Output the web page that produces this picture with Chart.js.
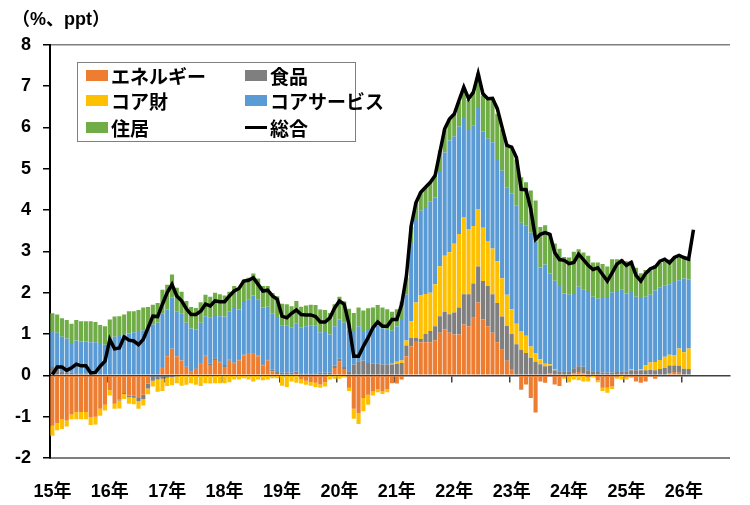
<!DOCTYPE html>
<html lang="ja">
<head>
<meta charset="utf-8">
<title>総合の寄与度分解</title>
<script src="https://cdn.jsdelivr.net/npm/chart.js@4.4.1/dist/chart.umd.min.js"></script>
<style>
  html, body { margin: 0; padding: 0; background: #fff; }
  #wrap { position: relative; width: 750px; height: 505px; }
  #legend {
    position: absolute; left: 77px; top: 62px; width: 279px; height: 80px;
    box-sizing: border-box; border: 1px solid #7f7f7f; background: #fff;
    display: grid; grid-template-columns: 159px 1fr; grid-template-rows: 24px 27px 27px;
    padding-left: 8px;
    font: bold 19px "Noto Sans CJK JP", sans-serif; color: #000;
  }
  .item { display: flex; align-items: center; white-space: nowrap; }
  .sw { width: 22px; height: 11px; margin-right: 3px; flex: none; }
  .ln { width: 22px; height: 3px; margin-right: 3px; flex: none; background: #000; }
</style>
</head>
<body>
<div id="wrap">
  <canvas id="chart"></canvas>
  <div id="legend"></div>
</div>
<script>
// tick labels (one per January)
const yearLabels = ['15年', '16年', '17年', '18年', '19年', '20年', '21年', '22年', '23年', '24年', '25年', '26年'];

// contributions, %pt, monthly from Jan 2015
const energy = [
  -1.22, -1.16, -1.06, -1.09, -0.95, -0.89, -0.89, -0.89, -1.02, -1.00, -0.81, -0.71,
  -0.36, -0.67, -0.59, -0.43, -0.49, -0.49, -0.55, -0.47, -0.20, 0.00, 0.00, 0.20,
  0.46, 0.64, 0.46, 0.36, 0.20, 0.08, 0.15, 0.28, 0.45, 0.25, 0.37, 0.31,
  0.20, 0.35, 0.28, 0.36, 0.48, 0.52, 0.52, 0.46, 0.24, 0.36, 0.10, 0.03,
  0.00, 0.00, 0.00, 0.03, -0.10, -0.13, -0.16, -0.18, -0.22, -0.17, 0.00, 0.18,
  0.34, 0.15, -0.30, -0.81, -0.91, -0.55, -0.47, -0.39, -0.33, -0.39, -0.33, -0.19,
  -0.20, -0.10, 0.46, 0.70, 0.83, 0.80, 0.80, 0.80, 0.85, 1.03, 1.11, 1.03,
  0.99, 0.99, 1.23, 1.19, 1.39, 1.76, 1.35, 1.19, 1.03, 0.80, 0.62, 0.35,
  0.15, 0.00, -0.35, -0.22, -0.55, -0.90, -0.15, -0.18, 0.05, -0.22, -0.26, -0.05,
  -0.02, 0.05, 0.08, 0.05, -0.05, 0.00, -0.12, -0.30, -0.30, -0.27, -0.05, 0.00,
  -0.05, -0.05, -0.15, -0.18, -0.15, -0.03, -0.08, 0.00, 0.02, 0.05, 0.08, 0.06,
  0.02, 0.00
];
const food = [
  0.20, 0.15, 0.10, 0.07, 0.06, 0.05, 0.05, 0.04, 0.04, 0.03, 0.02, 0.02,
  0.00, -0.01, -0.02, -0.02, -0.04, -0.05, -0.08, -0.10, -0.12, -0.13, -0.10, -0.08,
  -0.06, -0.04, -0.02, 0.00, 0.01, 0.01, 0.02, 0.02, 0.03, 0.03, 0.04, 0.03,
  0.05, 0.03, 0.03, 0.03, 0.02, 0.02, 0.02, 0.02, 0.03, 0.03, 0.04, 0.05,
  0.06, 0.07, 0.06, 0.06, 0.05, 0.05, 0.05, 0.05, 0.06, 0.06, 0.07, 0.06,
  0.06, 0.05, 0.10, 0.26, 0.34, 0.36, 0.30, 0.28, 0.28, 0.26, 0.26, 0.26,
  0.28, 0.30, 0.26, 0.20, 0.08, 0.08, 0.20, 0.27, 0.34, 0.40, 0.43, 0.45,
  0.53, 0.65, 0.73, 0.77, 0.83, 0.87, 0.93, 0.97, 0.93, 0.95, 0.80, 0.85,
  0.85, 0.75, 0.62, 0.54, 0.42, 0.33, 0.27, 0.22, 0.18, 0.12, 0.10, 0.10,
  0.10, 0.12, 0.14, 0.16, 0.12, 0.10, 0.08, 0.07, 0.07, 0.07, 0.08, 0.10,
  0.10, 0.12, 0.12, 0.12, 0.12, 0.13, 0.12, 0.15, 0.16, 0.19, 0.16, 0.17,
  0.14, 0.15
];
const coreGoods = [
  -0.24, -0.17, -0.24, -0.15, -0.11, -0.17, -0.17, -0.17, -0.18, -0.19, -0.17, -0.14,
  -0.13, -0.13, -0.19, -0.12, -0.16, -0.16, -0.18, -0.16, -0.14, -0.14, -0.30, -0.30,
  -0.20, -0.20, -0.17, -0.25, -0.23, -0.19, -0.23, -0.26, -0.19, -0.20, -0.19, -0.19,
  -0.19, -0.17, -0.10, -0.10, -0.07, -0.10, -0.15, -0.10, -0.12, -0.10, -0.07, -0.07,
  -0.25, -0.28, -0.15, -0.18, -0.10, -0.10, -0.09, -0.10, -0.08, -0.10, -0.10, -0.08,
  -0.08, -0.05, -0.08, -0.24, -0.27, -0.32, -0.24, -0.10, -0.08, -0.06, -0.08, 0.02,
  0.05, 0.06, 0.12, 0.40, 0.85, 1.05, 0.97, 0.93, 1.01, 1.21, 1.35, 1.50,
  1.66, 1.78, 1.86, 1.58, 1.39, 1.38, 1.29, 1.09, 1.11, 1.01, 0.93, 0.75,
  0.60, 0.50, 0.45, 0.42, 0.28, 0.20, 0.12, 0.06, 0.04, 0.03, 0.00, -0.03,
  -0.15, -0.10, -0.12, -0.15, -0.10, -0.05, -0.05, -0.08, -0.12, -0.06, -0.03, -0.10,
  -0.05, 0.02, 0.00, 0.02, 0.12, 0.18, 0.20, 0.22, 0.27, 0.26, 0.24, 0.42,
  0.40, 0.50
];
const coreServices = [
  0.85, 0.88, 0.83, 0.82, 0.72, 0.79, 0.77, 0.78, 0.76, 0.77, 0.76, 0.72,
  0.89, 0.93, 0.95, 0.99, 1.01, 1.04, 1.07, 1.09, 1.15, 1.23, 1.27, 1.30,
  1.13, 1.24, 1.09, 1.13, 1.06, 1.04, 0.94, 0.97, 0.95, 1.11, 1.05, 1.09,
  1.17, 1.16, 1.34, 1.20, 1.30, 1.30, 1.39, 1.36, 1.37, 1.27, 1.35, 1.33,
  1.15, 1.14, 1.09, 1.17, 1.10, 1.14, 1.16, 1.15, 0.98, 1.01, 0.92, 0.95,
  0.95, 1.07, 1.01, 0.79, 0.85, 0.71, 0.82, 0.86, 0.92, 0.88, 0.84, 0.80,
  0.85, 1.00, 1.12, 1.90, 2.00, 2.05, 2.10, 2.20, 2.10, 2.30, 2.50, 2.70,
  2.60, 2.60, 2.43, 2.42, 2.43, 2.48, 2.33, 2.47, 2.57, 2.47, 2.60, 2.60,
  2.80, 2.85, 2.62, 2.66, 2.75, 2.70, 2.22, 2.40, 2.19, 2.14, 2.06, 1.88,
  1.85, 1.82, 1.92, 1.87, 1.92, 1.80, 1.77, 1.80, 1.80, 1.94, 1.96, 1.98,
  1.88, 1.90, 1.78, 1.73, 1.66, 1.64, 1.73, 1.75, 1.73, 1.70, 1.80, 1.65,
  1.78, 1.67
];
const housing = [
  0.45, 0.44, 0.45, 0.45, 0.47, 0.50, 0.49, 0.49, 0.51, 0.49, 0.44, 0.45,
  0.46, 0.49, 0.48, 0.48, 0.54, 0.51, 0.51, 0.55, 0.50, 0.48, 0.48, 0.57,
  0.60, 0.56, 0.57, 0.53, 0.53, 0.52, 0.52, 0.50, 0.52, 0.51, 0.54, 0.53,
  0.51, 0.48, 0.51, 0.49, 0.51, 0.52, 0.53, 0.50, 0.52, 0.50, 0.50, 0.50,
  0.52, 0.51, 0.52, 0.54, 0.51, 0.50, 0.50, 0.50, 0.55, 0.51, 0.52, 0.53,
  0.55, 0.52, 0.50, 0.46, 0.45, 0.50, 0.50, 0.50, 0.50, 0.50, 0.50, 0.46,
  0.42, 0.42, 0.40, 0.40, 0.42, 0.45, 0.48, 0.47, 0.53, 0.50, 0.55, 0.52,
  0.55, 0.60, 0.65, 0.70, 0.80, 0.81, 0.87, 0.97, 1.06, 1.10, 1.00, 1.05,
  1.10, 1.12, 1.10, 1.05, 1.02, 1.00, 0.98, 0.95, 0.95, 0.90, 0.90, 0.88,
  0.90, 1.00, 0.91, 0.89, 0.85, 0.83, 0.88, 0.82, 0.76, 0.80, 0.77, 0.73,
  0.78, 0.72, 0.70, 0.60, 0.65, 0.63, 0.62, 0.60, 0.58, 0.60, 0.55, 0.55,
  0.48, 0.48
];
// headline, %
const total = [
  0.02, 0.20, 0.20, 0.12, 0.18, 0.27, 0.23, 0.23, 0.06, 0.07, 0.22, 0.34,
  0.87, 0.64, 0.66, 0.93, 0.85, 0.83, 0.74, 0.87, 1.15, 1.43, 1.42, 1.72,
  2.00, 2.20, 1.92, 1.80, 1.61, 1.47, 1.47, 1.55, 1.72, 1.68, 1.80, 1.78,
  1.78, 1.92, 2.04, 2.10, 2.28, 2.30, 2.36, 2.20, 2.04, 2.06, 1.92, 1.84,
  1.43, 1.39, 1.50, 1.58, 1.47, 1.46, 1.46, 1.42, 1.29, 1.29, 1.39, 1.63,
  1.80, 1.72, 1.23, 0.46, 0.46, 0.70, 0.91, 1.15, 1.29, 1.19, 1.19, 1.35,
  1.35, 1.71, 2.40, 3.62, 4.18, 4.43, 4.55, 4.67, 4.83, 5.40, 5.96, 6.20,
  6.32, 6.65, 6.97, 6.69, 6.85, 7.30, 6.81, 6.69, 6.70, 6.45, 6.00, 5.56,
  5.52, 5.27, 4.50, 4.49, 4.02, 3.29, 3.41, 3.45, 3.41, 2.97, 2.80, 2.78,
  2.70, 2.73, 2.93, 2.80, 2.66, 2.56, 2.60, 2.44, 2.28, 2.48, 2.69, 2.77,
  2.66, 2.73, 2.42, 2.28, 2.46, 2.58, 2.62, 2.76, 2.81, 2.72, 2.85, 2.90,
  2.85, 2.81, 3.52
];

// month categories, Jan 2015 .. Oct 2026 (axis runs past the data)
const months = [];
for (let i = 0; i < 142; i++) {
  months.push((2015 + Math.floor(i / 12)) + '-' + String(i % 12 + 1).padStart(2, '0'));
}

Chart.defaults.font.family = '"Liberation Sans", "Noto Sans CJK JP", sans-serif';
Chart.defaults.font.weight = 'bold';
Chart.defaults.color = '#000';

const bar = (label, data, color) => ({
  label, data, backgroundColor: color, borderWidth: 0,
  stack: 'cpi', order: 1, barPercentage: 0.86, categoryPercentage: 1.0
});

const chart = new Chart(document.getElementById('chart'), {
  type: 'bar',
  data: {
    labels: months,
    datasets: [
      bar('エネルギー', energy, '#ED7D31'),
      bar('食品', food, '#7F7F7F'),
      bar('コア財', coreGoods, '#FFC000'),
      bar('コアサービス', coreServices, '#5B9BD5'),
      bar('住居', housing, '#70AD47'),
      {
        type: 'line', label: '総合', data: total, stack: 'total', order: 0,
        borderColor: '#000', backgroundColor: '#000', borderWidth: 3.5,
        pointRadius: 0, tension: 0
      }
    ]
  },
  options: {
    responsive: true,
    maintainAspectRatio: false,
    animation: false,
    layout: { padding: { left: 12, right: 2, top: 0, bottom: 0 } },
    plugins: {
      legend: { display: false },
      tooltip: { enabled: false },
      title: {
        display: true, text: '（%、ppt）', align: 'start',
        font: { size: 18, weight: 'bold' }, padding: { top: 9, bottom: 14 }
      }
    },
    scales: {
      x: {
        stacked: true,
        grid: { display: false, drawTicks: false },
        border: { display: true, color: '#7f7f7f', width: 2 },
        ticks: {
          autoSkip: false, maxRotation: 0, minRotation: 0, padding: 23,
          font: { size: 18, weight: 'bold' },
          callback: (v, i) => (i % 12 === 0 ? yearLabels[i / 12] : '')
        },
        afterFit: s => { s.height = 47; }
      },
      xTop: {
        type: 'category', position: 'top', offset: true,
        grid: { display: false, drawTicks: false },
        ticks: { display: false },
        border: { display: true, color: '#7f7f7f', width: 1.5 }
      },
      xZero: {
        type: 'category', offset: true, position: { y: 0 },
        grid: {
          offset: true, drawOnChartArea: false, drawTicks: true, tickLength: 6, lineWidth: 1.5,
          color: c => (c.index % 12 === 0 && c.index > 0 ? '#404040' : 'rgba(0,0,0,0)')
        },
        ticks: { display: false },
        border: { display: true, color: '#404040', width: 1.5 }
      },
      y: {
        stacked: true, min: -2, max: 8,
        ticks: { stepSize: 1, padding: 12, font: { size: 18, weight: 'bold' } },
        grid: { drawOnChartArea: false, drawTicks: true, tickLength: 7, color: '#000', lineWidth: 1.5 },
        border: { color: '#000', width: 2 },
        afterFit: s => { s.width = 38; }
      }
    }
  }
});

// html legend in two columns, built from the datasets
const legendBox = document.getElementById('legend');
chart.data.datasets.forEach(ds => {
  const item = document.createElement('div');
  item.className = 'item';
  const mark = document.createElement('span');
  if (ds.type === 'line') {
    mark.className = 'ln';
  } else {
    mark.className = 'sw';
    mark.style.background = ds.backgroundColor;
  }
  item.appendChild(mark);
  item.appendChild(document.createTextNode(ds.label));
  legendBox.appendChild(item);
});
</script>
</body>
</html>
